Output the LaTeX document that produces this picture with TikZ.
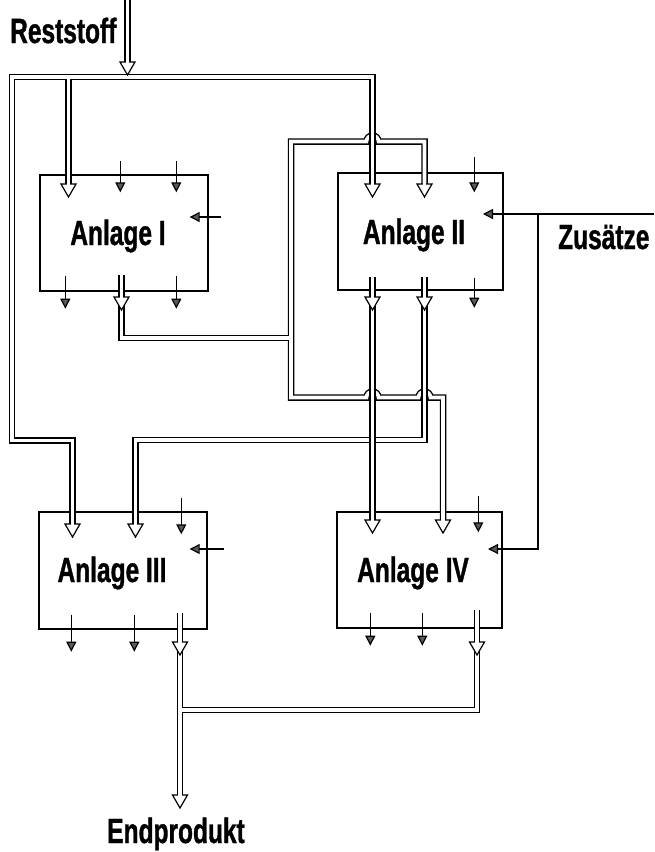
\documentclass[tikz,border=0pt]{standalone}
\usepackage{fontspec}
\newfontfamily\lblfont[FakeStretch=0.7,FakeBold=1]{Liberation Sans}
\usetikzlibrary{arrows.meta,calc}
\begin{document}
\begin{tikzpicture}[x=1pt,y=-1pt,
  box/.style={draw, line width=1.4pt, inner sep=0pt, minimum width=#1},
  lbl/.style={font=\lblfont\bfseries\fontsize{35}{40}\selectfont, inner sep=0pt},
  sarr/.style={line width=1.2pt, -{Triangle[width=10pt,length=10pt,fill=black!65]}},
  pipeB/.style={line width=6.5pt, black, line join=miter},
  pipeW/.style={line width=3.7pt, white, line join=miter},
  phead/.pic={
    \draw[line width=1.2pt, fill=white, line join=miter] (-7.5,0) -- (0,13) -- (7.5,0) -- cycle;
    \draw[white, line width=3.7pt] (0,-1.5) -- (0,2.2);
  }]
\useasboundingbox (0,0) rectangle (654,852);
\fill[white] (0,0) rectangle (654,852);

% boxes
\node[box=168pt, minimum height=116pt] (A1) at (124,233) {};
\node[box=165pt, minimum height=117pt] (A2) at (420.5,231.5) {};
\node[box=168pt, minimum height=117pt] (A3) at (123,570.5) {};
\node[box=165pt, minimum height=116pt] (A4) at (419.5,570) {};

% labels
\node[lbl, anchor=base] (t1) at (118,245) {Anlage I};
\node[lbl, anchor=base] (t2) at (414,244) {Anlage II};
\node[lbl, anchor=base] (t3) at (112,582) {Anlage III};
\node[lbl, anchor=base] (t4) at (413,582) {Anlage IV};
\node[lbl, anchor=base west] (trs) at (10,43) {Reststoff};
\node[lbl, anchor=base west] (tzu) at (558,249) {Zusätze};
\node[lbl, anchor=base] (tep) at (176,843) {Endprodukt};

% small arrows
\draw[sarr] ($(A1.north west)+(81,-13)$) -- ($(A1.north west)+(81,18)$);
\draw[sarr] ($(A1.north west)+(137,-13)$) -- ($(A1.north west)+(137,18)$);
\draw[sarr] ($(A1.east)+(12,-16)$) -- ($(A1.east)+(-19,-16)$);
\draw[sarr] ($(A1.south west)+(26,-16)$) -- ($(A1.south west)+(26,17)$);
\draw[sarr] ($(A1.south west)+(137,-16)$) -- ($(A1.south west)+(137,17)$);
\draw[sarr] ($(A2.north west)+(137,-15)$) -- ($(A2.north west)+(137,20)$);
\draw[sarr] ($(A2.south west)+(137,-13)$) -- ($(A2.south west)+(137,17)$);
\draw[sarr] ($(A3.north west)+(143,-13)$) -- ($(A3.north west)+(143,23)$);
\draw[sarr] ($(A3.east)+(16,-21.5)$) -- ($(A3.east)+(-18,-21.5)$);
\draw[sarr] ($(A3.south west)+(33,-15)$) -- ($(A3.south west)+(33,22)$);
\draw[sarr] ($(A3.south west)+(96,-15)$) -- ($(A3.south west)+(96,22)$);
\draw[sarr] ($(A4.north west)+(142,-15)$) -- ($(A4.north west)+(142,21)$);
\draw[sarr] ($(A4.south west)+(34,-16)$) -- ($(A4.south west)+(34,17)$);
\draw[sarr] ($(A4.south west)+(86,-16)$) -- ($(A4.south west)+(86,17)$);

% Zusaetze lines
\coordinate (zR) at (654,214);
\coordinate (zJ) at (538,214);
\coordinate (zK) at (538,549);
\coordinate (z2) at (483,214);
\coordinate (z4) at (488,549);
\draw[sarr] (zR) -- (z2);
\draw[sarr] (zJ) -- (zK) -- (z4);

% pipe coordinates
\coordinate (rs0) at (127.5,0);
\coordinate (rs1) at (127.5,62);
\coordinate (g1a) at (372.5,184);
\coordinate (g1b) at (372.5,77);
\coordinate (g1c) at (12,77);
\coordinate (g1d) at (12,440.5);
\coordinate (g1e) at (72.5,440.5);
\coordinate (g1f) at (72.5,524);
\coordinate (g1g) at (68.5,77);
\coordinate (g1h) at (68.5,184);

\coordinate (g2a) at (121.5,275);
\coordinate (g2b) at (121.5,338);
\coordinate (g2c) at (291,338);
\coordinate (g2d) at (424.5,184);
\coordinate (g2e) at (424.5,141.5);
\coordinate (g2f) at (378.5,141.5);
\coordinate (g2g) at (291,141.5);
\coordinate (g2h) at (291,397.5);
\coordinate (g2i) at (366.5,397.5);
\coordinate (g2j) at (418.5,397.5);
\coordinate (g2k) at (443,397.5);
\coordinate (g2l) at (443,520);

\coordinate (g3a) at (372.5,277);
\coordinate (g3b) at (372.5,520);
\coordinate (g3c) at (424.5,277);
\coordinate (g3d) at (424.5,440);
\coordinate (g3e) at (135.5,440);
\coordinate (g3f) at (135.5,524);

\coordinate (g4a) at (180,613);
\coordinate (g4b) at (180,795);
\coordinate (g4c) at (477,610);
\coordinate (g4d) at (477,710);
\coordinate (g4e) at (180,710);

% G2: output of Anlage I
\def\GtwoA{(g2a) -- (g2b) -- (g2c)}
\def\GtwoB{(g2d) -- (g2e) -- (g2f) arc[start angle=0,end angle=-180,radius=6] -- (g2g) -- (g2h) -- (g2i) arc[start angle=180,end angle=360,radius=6] -- (g2j) arc[start angle=180,end angle=360,radius=6] -- (g2k) -- (g2l)}
\draw[pipeB] \GtwoA; \draw[pipeB] \GtwoB;
\draw[pipeW] \GtwoA; \draw[pipeW] \GtwoB;

% G3b: Anlage II -> Anlage III
\draw[pipeB] (g3c) -- (g3d) -- (g3e) -- (g3f);
\draw[pipeW] (g3c) -- (g3d) -- (g3e) -- (g3f);
% G3a: Anlage II -> Anlage IV
\draw[pipeB] (g3a) -- (g3b);
\draw[pipeW] (g3a) -- (g3b);

% G1: Reststoff distribution
\def\GoneA{(g1a) -- (g1b) -- (g1c) -- (g1d) -- (g1e) -- (g1f)}
\def\GoneB{(g1g) -- (g1h)}
\draw[pipeB] \GoneA; \draw[pipeB] \GoneB;
\draw[pipeW] \GoneA; \draw[pipeW] \GoneB;
\draw[pipeB] (rs0) -- (rs1);
\draw[pipeW] (rs0) -- (rs1);

% G4: products
\def\GfourA{(g4c) -- (g4d) -- (g4e)}
\def\GfourB{(g4a) -- (g4b)}
\draw[pipeB] \GfourA; \draw[pipeB] \GfourB;
\draw[pipeW] \GfourA; \draw[pipeW] \GfourB;

% hollow heads
\pic at (rs1) {phead};
\pic at (g1h) {phead};
\pic at (g1a) {phead};
\pic at (g2d) {phead};
\pic at (g1f) {phead};
\pic at (g3f) {phead};
\pic at (g3b) {phead};
\pic at (g2l) {phead};
\pic at (g4b) {phead};
\pic at (121.5,297) {phead};
\pic at (372.5,297) {phead};
\pic at (424.5,297) {phead};
\pic at (180,642) {phead};
\pic at (477,642) {phead};
\end{tikzpicture}
\end{document}
